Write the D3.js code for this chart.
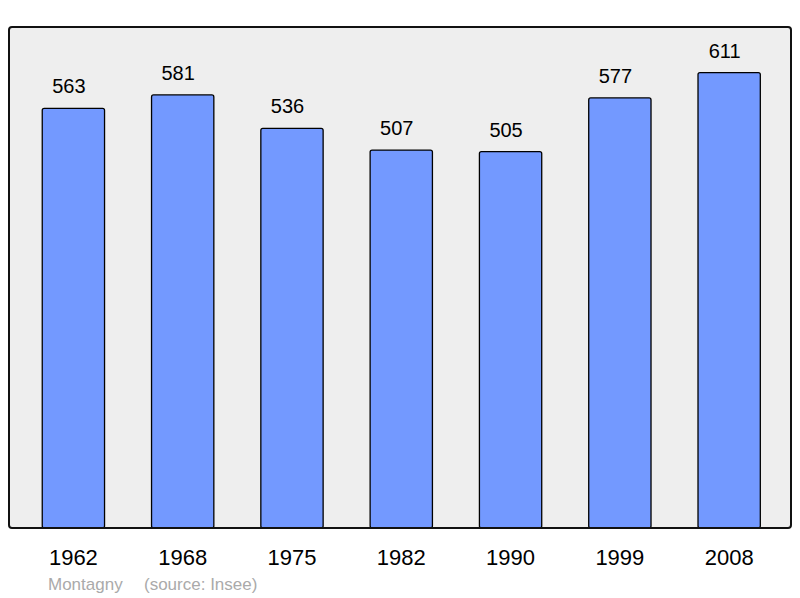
<!DOCTYPE html>
<html>
<head>
<meta charset="utf-8">
<script src="https://cdn.jsdelivr.net/npm/d3@7"></script>
<style>
  body { margin: 0; background: #fff; }
  text { font-family: "Liberation Sans", Arial, sans-serif; }
</style>
</head>
<body>
<script>
// population data
years = ["1962", "1968", "1975", "1982", "1990", "1999", "2008"]
population = [563, 581, 536, 507, 505, 577, 611]

width = 800
height = 598
frame = {left: 9, top: 27, right: 791, bottom: 528}

data = years.map((y, i) => ({year: y, value: population[i]}))

x = d3.scaleBand()
	.domain(years)
	.range([frame.left, frame.right])
	.paddingInner(0.43)
	.paddingOuter(0.2925)
	.align(0.52)

y = d3.scaleLinear()
	.domain([0, d3.max(population) * 1.1])
	.range([frame.bottom, frame.top])

var svg = d3.select("body").append("svg")
	.attr("width", width)
	.attr("height", height)
	.attr("viewBox", [0, 0, width, height])

// plot background
svg.append("rect")
	.attr("x", frame.left)
	.attr("y", frame.top)
	.attr("width", frame.right - frame.left)
	.attr("height", frame.bottom - frame.top)
	.attr("rx", 3)
	.attr("fill", "#eeeeee")
	.attr("stroke", "none")

// bars
svg.append("g")
	.selectAll("rect")
	.data(data)
	.join("rect")
	.attr("x", d => x(d.year))
	.attr("y", d => y(d.value))
	.attr("width", x.bandwidth())
	.attr("height", d => y(0) - y(d.value))
	.attr("rx", 2)
	.attr("fill", "#7399ff")
	.attr("stroke", "#000")
	.attr("stroke-width", 1.3)

// frame on top
svg.append("rect")
	.attr("x", frame.left)
	.attr("y", frame.top)
	.attr("width", frame.right - frame.left)
	.attr("height", frame.bottom - frame.top)
	.attr("rx", 3)
	.attr("fill", "none")
	.attr("stroke", "#111")
	.attr("stroke-width", 2)

// value labels (sit a little left of the bar centre, as in the original)
svg.append("g")
	.selectAll("text")
	.data(data)
	.join("text")
	.attr("x", d => x(d.year) + x.bandwidth() / 2 - 4.5)
	.attr("y", d => y(d.value) - 15)
	.attr("text-anchor", "middle")
	.attr("font-size", 20)
	.attr("fill", "#000")
	.text(d => d.value)

// year labels
svg.append("g")
	.selectAll("text")
	.data(years)
	.join("text")
	.attr("x", d => x(d) + x.bandwidth() / 2)
	.attr("y", 565)
	.attr("text-anchor", "middle")
	.attr("font-size", 22)
	.attr("fill", "#000")
	.text(d => d)

// footer
svg.append("text")
	.attr("x", 48)
	.attr("y", 590)
	.attr("font-size", 17)
	.attr("fill", "#aaaaaa")
	.text("Montagny")
svg.append("text")
	.attr("x", 144)
	.attr("y", 590)
	.attr("font-size", 17)
	.attr("fill", "#aaaaaa")
	.text("(source: Insee)")
</script>
</body>
</html>
